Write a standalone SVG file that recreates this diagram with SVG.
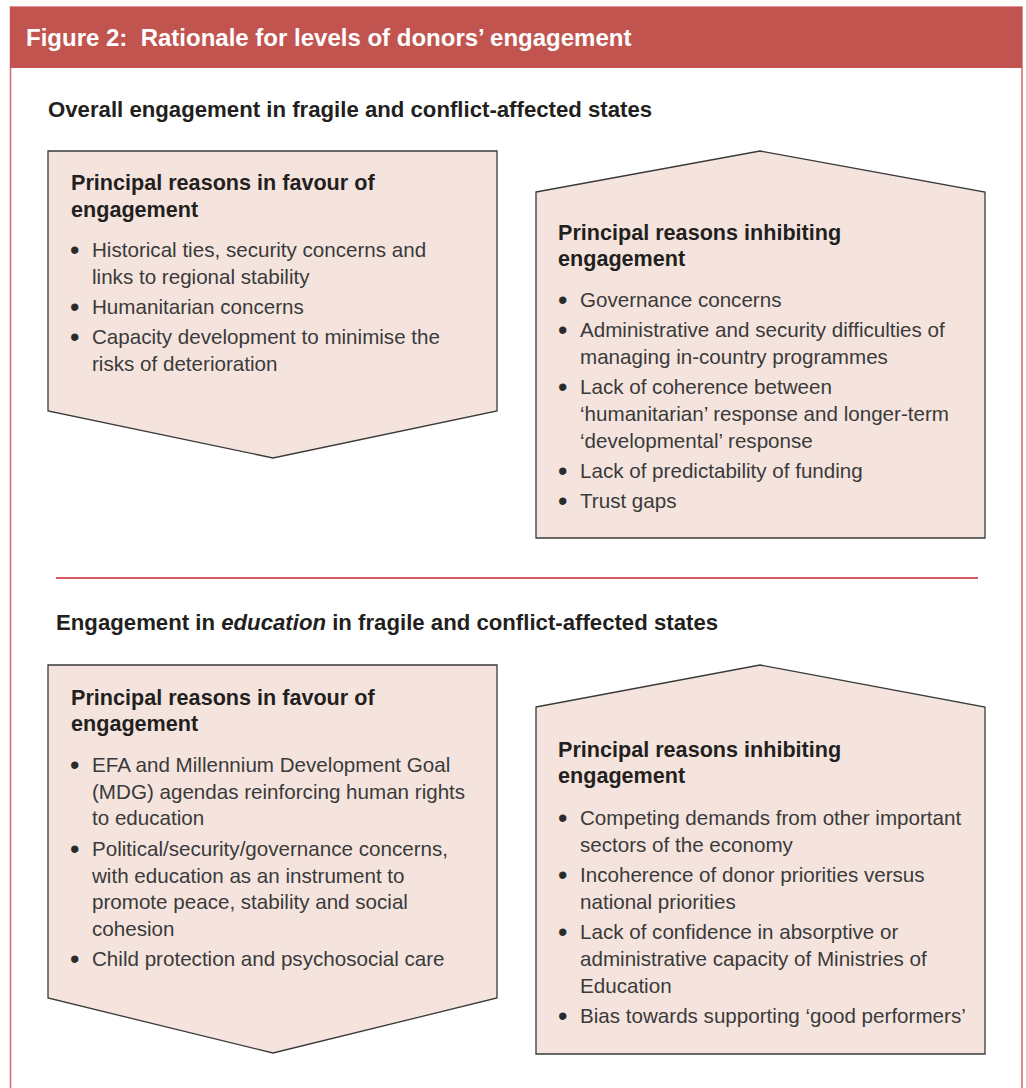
<svg xmlns="http://www.w3.org/2000/svg" width="1026" height="1088" viewBox="0 0 1026 1088">
<style>
  text { font-family: "Liberation Sans", Arial, Helvetica, sans-serif; }
  .title { font-size: 24px; font-weight: bold; fill: #ffffff; }
  .sec { font-size: 22.2px; font-weight: bold; fill: #231f20; }
  .hd { font-size: 21.6px; font-weight: bold; fill: #231f20; }
  .bl { font-size: 20.6px; fill: #3a3a3a; }
  .dot { font-size: 27px; fill: #2a2a2a; }
  .box { fill: #f5e4de; stroke: #3a3a3a; stroke-width: 1.3; stroke-linejoin: miter; }
</style>
<rect x="0" y="0" width="1026" height="1088" fill="#ffffff"/>
<g id="frame">
  <path d="M10.5,1088 V7 H1022 V1088" fill="none" stroke="#d6707b" stroke-width="1.6"/>
  <rect x="10" y="7" width="1012" height="61" fill="#c2544f"/>
  <text class="title" x="26" y="46" xml:space="preserve">Figure 2:  Rationale for levels of donors’ engagement</text>
</g>
<g id="section1">
  <text class="sec" x="48" y="117">Overall engagement in fragile and conflict-affected states</text>
</g>
<g id="box1">
  <polygon class="box" points="48,151 497,151 497,411 273,458 48,411"/>
  <text class="hd" x="71" y="190">Principal reasons in favour of</text>
  <text class="hd" x="71" y="217">engagement</text>
  <text class="dot" x="70" y="259">•</text>
  <text class="bl" x="92" y="257">Historical ties, security concerns and</text>
  <text class="bl" x="92" y="284">links to regional stability</text>
  <text class="dot" x="70" y="316">•</text>
  <text class="bl" x="92" y="314">Humanitarian concerns</text>
  <text class="dot" x="70" y="346">•</text>
  <text class="bl" x="92" y="344">Capacity development to minimise the</text>
  <text class="bl" x="92" y="371">risks of deterioration</text>
</g>
<g id="box2">
  <polygon class="box" points="536,192 760,151 985,192 985,538 536,538"/>
  <text class="hd" x="558" y="240">Principal reasons inhibiting</text>
  <text class="hd" x="558" y="266">engagement</text>
  <text class="dot" x="558" y="309">•</text>
  <text class="bl" x="580" y="307">Governance concerns</text>
  <text class="dot" x="558" y="339">•</text>
  <text class="bl" x="580" y="337">Administrative and security difficulties of</text>
  <text class="bl" x="580" y="364">managing in-country programmes</text>
  <text class="dot" x="558" y="396">•</text>
  <text class="bl" x="580" y="394">Lack of coherence between</text>
  <text class="bl" x="580" y="421">‘humanitarian’ response and longer-term</text>
  <text class="bl" x="580" y="448">‘developmental’ response</text>
  <text class="dot" x="558" y="480">•</text>
  <text class="bl" x="580" y="478">Lack of predictability of funding</text>
  <text class="dot" x="558" y="510">•</text>
  <text class="bl" x="580" y="508">Trust gaps</text>
</g>
<g id="separator">
  <line x1="56" y1="578" x2="978" y2="578" stroke="#c8202f" stroke-width="1.3"/>
</g>
<g id="section2">
  <text class="sec" x="56" y="630">Engagement in <tspan font-style="italic">education</tspan> in fragile and conflict-affected states</text>
</g>
<g id="box3">
  <polygon class="box" points="48,665 497,665 497,998 273,1053 48,998"/>
  <text class="hd" x="71" y="705">Principal reasons in favour of</text>
  <text class="hd" x="71" y="731">engagement</text>
  <text class="dot" x="70" y="774">•</text>
  <text class="bl" x="92" y="772">EFA and Millennium Development Goal</text>
  <text class="bl" x="92" y="799">(MDG) agendas reinforcing human rights</text>
  <text class="bl" x="92" y="825">to education</text>
  <text class="dot" x="70" y="858">•</text>
  <text class="bl" x="92" y="856">Political/security/governance concerns,</text>
  <text class="bl" x="92" y="883">with education as an instrument to</text>
  <text class="bl" x="92" y="909">promote peace, stability and social</text>
  <text class="bl" x="92" y="936">cohesion</text>
  <text class="dot" x="70" y="968">•</text>
  <text class="bl" x="92" y="966">Child protection and psychosocial care</text>
</g>
<g id="box4">
  <polygon class="box" points="536,707 760,665 985,707 985,1054 536,1054"/>
  <text class="hd" x="558" y="757">Principal reasons inhibiting</text>
  <text class="hd" x="558" y="783">engagement</text>
  <text class="dot" x="558" y="827">•</text>
  <text class="bl" x="580" y="825">Competing demands from other important</text>
  <text class="bl" x="580" y="852">sectors of the economy</text>
  <text class="dot" x="558" y="884">•</text>
  <text class="bl" x="580" y="882">Incoherence of donor priorities versus</text>
  <text class="bl" x="580" y="909">national priorities</text>
  <text class="dot" x="558" y="941">•</text>
  <text class="bl" x="580" y="939">Lack of confidence in absorptive or</text>
  <text class="bl" x="580" y="966">administrative capacity of Ministries of</text>
  <text class="bl" x="580" y="993">Education</text>
  <text class="dot" x="558" y="1025">•</text>
  <text class="bl" x="580" y="1023">Bias towards supporting ‘good performers’</text>
</g>
<g id="connectors"></g>
</svg>
